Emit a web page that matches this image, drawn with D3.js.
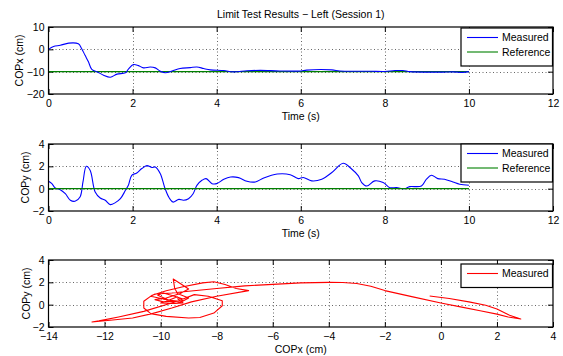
<!DOCTYPE html>
<html>
<head>
<meta charset="utf-8">
<script src="https://d3js.org/d3.v7.min.js"></script>
<style>
  body { margin: 0; background: #fff; }
  svg { display: block; font-family: "Liberation Sans", Arial, sans-serif; }
  .tick text { font-size: 10.5px; fill: #000; }
  .tick line { stroke: #000; }
</style>
</head>
<body>
<svg id="chart" width="563" height="356"></svg>
<script>
// ---- data ----
const timeTicks = [0, 2, 4, 6, 8, 10, 12];
const copxTicks = [-20, -10, 0, 10];
const copyTicks = [-2, 0, 2, 4];
const trajXTicks = [-14, -12, -10, -8, -6, -4, -2, 0, 2, 4];

const refTime = [0, 10];
const refCopx = -10;
const refCopy = 0;

// COPx (cm) over time (s)
const copxTime = [0, 0.12, 0.28, 0.48, 0.71, 0.79, 0.87, 0.95, 1.03, 1.15, 1.31, 1.47, 1.63, 1.83, 1.9,
  2.02, 2.14, 2.26, 2.42, 2.54, 2.66, 2.78, 2.94, 3.13, 3.37, 3.53, 3.69, 3.85, 4.17, 4.4, 4.72,
  5.04, 5.5, 6.0, 6.14, 6.74, 6.93, 7.49, 7.68, 8.0, 8.24, 8.43, 8.6, 9.03, 9.38, 9.62, 9.86, 10];
const copxVal = [0, 1.3, 1.8, 2.8, 2.5, 0.3, -2.7, -5.6, -9.0, -10.0, -11.6, -12.5, -11.1, -10.5, -8.9,
  -6.8, -7.3, -8.3, -7.9, -8.3, -9.8, -10.5, -9.7, -8.6, -8.2, -7.9, -8.6, -9.2, -9.5, -10.1, -9.6,
  -9.4, -9.7, -9.7, -9.3, -9.2, -9.7, -9.8, -9.8, -9.9, -9.5, -9.5, -10.0, -10.2, -10.2, -10.1, -10.3, -10.0];

// COPy (cm) over time (s)
const copyTime = [0, 0.08, 0.16, 0.28, 0.4, 0.52, 0.63, 0.75, 0.82, 0.9, 0.99, 1.11, 1.23, 1.35, 1.47,
  1.59, 1.71, 1.83, 1.9, 1.98, 2.1, 2.22, 2.34, 2.46, 2.54, 2.66, 2.76, 2.86, 2.96, 3.1, 3.21, 3.33,
  3.44, 3.53, 3.65, 3.75, 3.89, 4.0, 4.17, 4.33, 4.52, 4.72, 4.92, 5.12, 5.44, 5.75, 5.94, 6.06,
  6.26, 6.5, 6.74, 7.01, 7.21, 7.37, 7.45, 7.57, 7.76, 7.96, 8.12, 8.28, 8.47, 8.59, 8.87, 8.99,
  9.11, 9.26, 9.42, 9.62, 9.78, 10];
const copyVal = [0.66, 0.45, 0.06, -0.1, -0.45, -1.04, -1.13, -0.75, 0.6, 2.0, 1.64, -0.3, -0.84, -1.04, -1.43,
  -1.25, -0.9, -0.15, 0.3, 1.2, 1.4, 1.8, 2.06, 1.9, 1.94, 1.34, 0.15, -0.75, -1.2, -0.96, -1.04, -0.9,
  -0.45, 0.3, 0.75, 0.9, 0.45, 0.45, 0.84, 1.04, 0.99, 0.66, 0.6, 0.96, 1.31, 1.25, 0.9, 1.0,
  0.7, 0.85, 1.45, 2.27, 1.76, 1.15, 0.55, 0.24, 0.7, 0.55, 0.09, 0.09, 0.0, 0.18, 0.24, 0.85,
  1.2, 0.9, 0.85, 0.6, 0.4, 0.3];

// COPy vs COPx trajectory (cm)
const trajX = [-0.4, 0.3, 1.0, 1.6, 2.0, 2.45, 2.85, 2.4, 2.0, 1.4, 0.7, 0.0, -1.0, -2.0, -2.5, -3.0,
  -3.5, -4.0, -5.0, -6.0, -7.0, -8.0, -9.0, -9.6, -10.2, -10.35, -9.9, -9.4, -10.6, -11.5, -12.2,
  -12.45, -11.8, -11.0, -10.3, -9.6, -8.9, -8.0, -6.86, -7.3, -7.7, -8.1, -8.5, -9.2, -9.8, -10.3,
  -10.6, -10.6, -10.35, -9.8, -9.0, -8.6, -8.1, -7.8, -7.8, -8.3, -8.8, -9.2, -9.5, -9.9, -10.1,
  -9.7, -9.3, -9.0, -9.4, -9.5, -9.55, -9.3, -9.0, -9.3, -9.8, -10.2, -9.9, -9.2, -9.4, -9.8,
  -10.0, -9.5, -9.2, -9.4];
const trajY = [0.78, 0.55, 0.25, -0.05, -0.38, -0.95, -1.28, -1.1, -0.85, -0.55, -0.2, 0.15, 0.7, 1.26, 1.65, 1.9,
  1.98, 2.0, 1.95, 1.82, 1.68, 1.45, 1.2, 1.05, 0.95, 0.75, 0.5, 0.3, -0.6, -1.1, -1.45,
  -1.55, -1.4, -1.2, -0.8, -0.3, 0.25, 0.75, 1.26, 1.45, 1.8, 2.05, 1.95, 1.6, 1.25, 0.85,
  0.3, -0.3, -0.8, -1.05, -1.2, -1.15, -0.75, -0.1, 0.35, 0.75, 0.9, 0.5, 0.75, 1.05, 0.85,
  0.4, 0.2, 0.6, 1.0, 1.5, 2.3, 1.9, 1.4, 1.0, 0.6, 0.45, 0.25, 0.35, 0.7, 0.3,
  0.15, 0.1, 0.15, 0.55];

// ---- layout ----
const svg = d3.select('#chart');
const left = 48.5, right = 553;
const fmt = d3.format('d');
const panels = [
  { top: 27, bottom: 94, xDomain: [0, 12], yDomain: [-20, 10], xTicks: timeTicks, yTicks: copxTicks,
    xLabel: 'Time (s)', yLabel: 'COPx (cm)', yLabelX: 19 },
  { top: 144, bottom: 211, xDomain: [0, 12], yDomain: [-2, 4], xTicks: timeTicks, yTicks: copyTicks,
    xLabel: 'Time (s)', yLabel: 'COPy (cm)', yLabelX: 25 },
  { top: 260, bottom: 327, xDomain: [-14, 4], yDomain: [-2, 4], xTicks: trajXTicks, yTicks: copyTicks,
    xLabel: 'COPx (cm)', yLabel: 'COPy (cm)', yLabelX: 26 }
];

function drawPanel(p, i) {
  const x = d3.scaleLinear().domain(p.xDomain).range([left, right]);
  const y = d3.scaleLinear().domain(p.yDomain).range([p.bottom, p.top]);
  const g = svg.append('g');

  // dotted grid
  const xi = p.xTicks.slice(1, -1), yi = p.yTicks.slice(1, -1);
  g.selectAll('.gx').data(xi).join('line')
    .attr('x1', d => Math.round(x(d)) + 0.5).attr('x2', d => Math.round(x(d)) + 0.5)
    .attr('y1', p.top).attr('y2', p.bottom)
    .attr('stroke', '#666').attr('stroke-dasharray', '1,2.5');
  g.selectAll('.gy').data(yi).join('line')
    .attr('y1', d => Math.round(y(d)) + 0.5).attr('y2', d => Math.round(y(d)) + 0.5)
    .attr('x1', left).attr('x2', right)
    .attr('stroke', '#666').attr('stroke-dasharray', '1,2.5');

  // axes with inward ticks
  const ax = (gen, tr) => g.append('g').attr('transform', tr).call(gen).call(s => s.select('.domain').remove());
  ax(d3.axisBottom(x).tickValues(p.xTicks).tickFormat(fmt).tickSize(-5).tickPadding(6), `translate(0,${p.bottom})`);
  ax(d3.axisTop(x).tickValues(p.xTicks).tickSize(-5).tickFormat(''), `translate(0,${p.top})`);
  ax(d3.axisLeft(y).tickValues(p.yTicks).tickFormat(fmt).tickSize(-5).tickPadding(4), `translate(${left},0)`);
  ax(d3.axisRight(y).tickValues(p.yTicks).tickSize(-5).tickFormat(''), `translate(${right},0)`);

  // clip
  svg.append('clipPath').attr('id', 'clip' + i).append('rect')
    .attr('x', left).attr('y', p.top).attr('width', right - left).attr('height', p.bottom - p.top);
  const plot = g.append('g').attr('clip-path', `url(#clip${i})`);

  g.append('text').attr('x', (left + right) / 2).attr('y', p.bottom + 26)
    .attr('text-anchor', 'middle').attr('font-size', 10.5).text(p.xLabel);
  g.append('text').attr('transform', `translate(${p.yLabelX},${(p.top + p.bottom) / 2}) rotate(-90)`)
    .attr('text-anchor', 'middle').attr('dy', '0.35em').attr('font-size', 10.5).text(p.yLabel);

  return { x, y, g, plot };
}

const [a1, a2, a3] = panels.map(drawPanel);

const lineXY = (sx, sy) => d3.line().x(d => sx(d[0])).y(d => sy(d[1]));

// panel 1
a1.plot.append('path').datum(refTime.map(t => [t, refCopx]))
  .attr('d', lineXY(a1.x, a1.y)).attr('fill', 'none').attr('stroke', '#008000').attr('stroke-width', 1.1);
a1.plot.append('path').datum(copxTime.map((t, k) => [t, copxVal[k]]))
  .attr('d', lineXY(a1.x, a1.y).curve(d3.curveCatmullRom))
  .attr('fill', 'none').attr('stroke', '#0000ff').attr('stroke-width', 1.1);

// panel 2
a2.plot.append('path').datum(copyTime.map((t, k) => [t, copyVal[k]]))
  .attr('d', lineXY(a2.x, a2.y).curve(d3.curveCatmullRom))
  .attr('fill', 'none').attr('stroke', '#0000ff').attr('stroke-width', 1.1);
a2.plot.append('path').datum(refTime.map(t => [t, refCopy]))
  .attr('d', lineXY(a2.x, a2.y)).attr('fill', 'none').attr('stroke', '#008000').attr('stroke-width', 1.1);

// panel 3
a3.plot.append('path').datum(trajX.map((v, k) => [v, trajY[k]]))
  .attr('d', lineXY(a3.x, a3.y)).attr('fill', 'none').attr('stroke', '#ff0000').attr('stroke-width', 1.1)
  .attr('stroke-linejoin', 'round');

// boxes on top
panels.forEach(p => {
  svg.append('rect').attr('x', left).attr('y', p.top).attr('width', right - left).attr('height', p.bottom - p.top)
    .attr('fill', 'none').attr('stroke', '#000').attr('stroke-width', 1.2);
});

// legends
function legend(top, items) {
  const g = svg.append('g');
  g.append('rect').attr('x', 461).attr('y', top).attr('width', 91.5).attr('height', 9 + items.length * 14.5)
    .attr('fill', '#fff').attr('stroke', '#000').attr('stroke-width', 1.2);
  items.forEach((it, k) => {
    const yy = top + 9.5 + k * 14.5;
    g.append('line').attr('x1', 467).attr('x2', 498).attr('y1', yy).attr('y2', yy)
      .attr('stroke', it[1]).attr('stroke-width', 1.1);
    g.append('text').attr('x', 502).attr('y', yy).attr('dy', '0.35em').attr('font-size', 10.5).text(it[0]);
  });
}
legend(28, [['Measured', '#0000ff'], ['Reference', '#008000']]);
legend(144, [['Measured', '#0000ff'], ['Reference', '#008000']]);
legend(264, [['Measured', '#ff0000']]);

// title
svg.append('text').attr('x', (left + right) / 2).attr('y', 18).attr('text-anchor', 'middle')
  .attr('font-size', 10.5).text('Limit Test Results \u2212 Left (Session 1)');
</script>
</body>
</html>
